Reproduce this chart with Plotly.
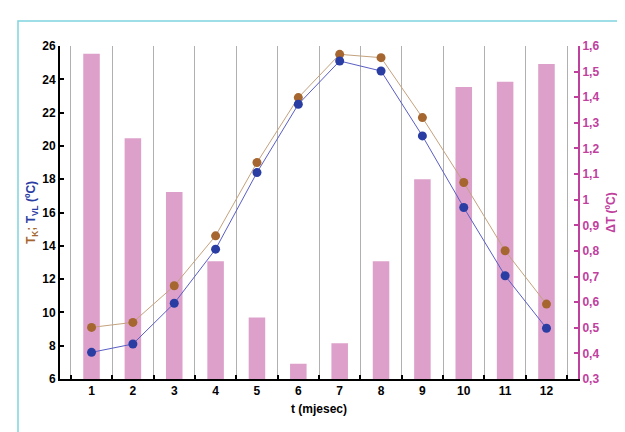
import plotly.graph_objects as go

months = ["1", "2", "3", "4", "5", "6", "7", "8", "9", "10", "11", "12"]
t_k = [9.1, 9.4, 11.6, 14.6, 19.0, 22.9, 25.5, 25.3, 21.7, 17.8, 13.7, 10.5]
t_vl = [7.6, 8.1, 10.55, 13.8, 18.4, 22.5, 25.1, 24.5, 20.6, 16.3, 12.2, 9.05]
delta_t = [1.57, 1.24, 1.03, 0.76, 0.54, 0.36, 0.44, 0.76, 1.08, 1.44, 1.46, 1.53]

left_ticks = [6, 8, 10, 12, 14, 16, 18, 20, 22, 24, 26]
right_ticks = [0.3, 0.4, 0.5, 0.6, 0.7, 0.8, 0.9, 1.0, 1.1, 1.2, 1.3, 1.4, 1.5, 1.6]

MAG = "#C0409E"
BAR = "#DDA0CB"
BROWN = "#A5672F"
BLUE = "#2A3DA3"
FONT = "Liberation Sans"

L, R, T, B = 52, 55, 38, 61
W, H = 625, 432
pw, ph = W - L - R, H - T - B

fig = go.Figure()
fig.add_trace(go.Bar(x=months, y=delta_t, marker=dict(color=BAR, line=dict(width=0)),
                     yaxis="y", showlegend=False))
fig.add_trace(go.Scatter(x=months, y=t_k, mode="lines+markers", yaxis="y2",
                         line=dict(color="#C4A27E", width=1),
                         marker=dict(color=BROWN, size=9), showlegend=False))
fig.add_trace(go.Scatter(x=months, y=t_vl, mode="lines+markers", yaxis="y2",
                         line=dict(color="#5A5EC4", width=1),
                         marker=dict(color=BLUE, size=9), showlegend=False))

fig.update_layout(
    width=W, height=H,
    margin=dict(l=L, r=R, t=T, b=B, autoexpand=False),
    paper_bgcolor="white", plot_bgcolor="white",
    separators=",.",
    bargap=0.6,
    font=dict(family=FONT, size=12, color="black"),
    xaxis=dict(
        type="category", tickson="boundaries", ticks="inside", ticklen=4,
        tickwidth=2, tickcolor="black", automargin=False,
        showgrid=True, gridcolor="#B0B0B0", gridwidth=1,
        showline=True, linecolor="black", linewidth=2,
        tickfont=dict(family=FONT, size=12, color="black", weight="bold"),
        title=dict(text="t (mjesec)", font=dict(family=FONT, size=12, color="black", weight="bold"),
                   standoff=7),
        zeroline=False,
    ),
    yaxis=dict(
        side="right", range=[0.3, 1.6], tickvals=right_ticks, automargin=False,
        ticks="inside", ticklen=4, tickwidth=2, tickcolor=MAG,
        showline=True, linecolor=MAG, linewidth=2, showgrid=False, zeroline=False,
        tickfont=dict(family=FONT, size=12, color=MAG, weight="bold"),
        title=dict(text="ΔT (ºC)", font=dict(family=FONT, size=12, color=MAG, weight="bold"),
                   standoff=8),
    ),
    yaxis2=dict(
        side="left", overlaying="y", range=[6, 26], tickvals=left_ticks, automargin=False,
        ticks="inside", ticklen=4, tickwidth=2, tickcolor="black",
        showline=True, linecolor="black", linewidth=2, showgrid=False, zeroline=False,
        tickfont=dict(family=FONT, size=12, color="black", weight="bold"),
        title=dict(text="<span style='color:%s'>T<sub>K</sub>; </span><span style='color:%s'>T<sub>VL</sub> (ºC)</span>" % (BROWN, BLUE),
                   font=dict(family=FONT, size=12, weight="bold"), standoff=4),
    ),
    shapes=[dict(type="rect", xref="paper", yref="paper",
                 x0=(10 - L) / pw, x1=(640 - L) / pw,
                 y0=(H - B - 450) / ph, y1=(H - B - 13) / ph,
                 line=dict(color="#7FD3DE", width=1.5), fillcolor="rgba(0,0,0,0)", layer="below")],
)

fig.write_html("out.html")
